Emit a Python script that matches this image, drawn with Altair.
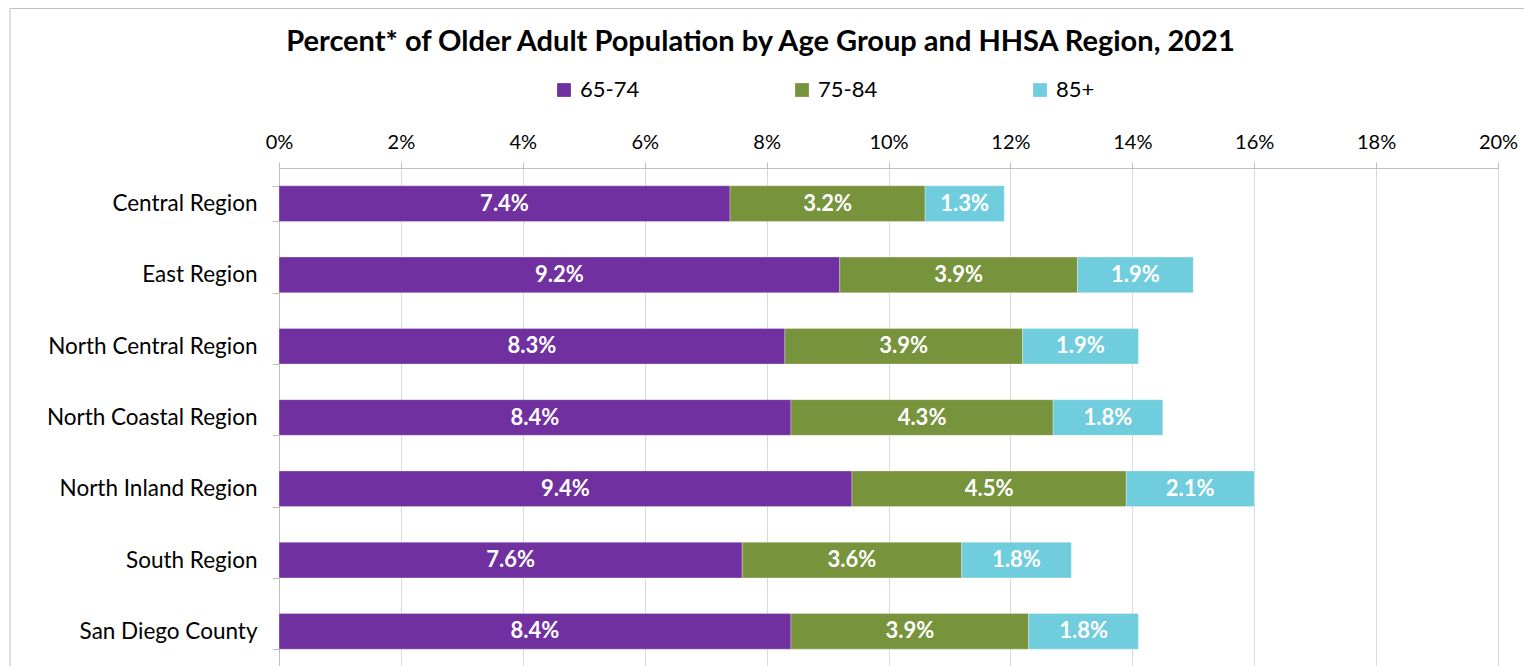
import altair as alt
import pandas as pd

regions = ["Central Region", "East Region", "North Central Region",
           "North Coastal Region", "North Inland Region", "South Region",
           "San Diego County"]
age_groups = ["65-74", "75-84", "85+"]
pct_65_74 = [7.4, 9.2, 8.3, 8.4, 9.4, 7.6, 8.4]
pct_75_84 = [3.2, 3.9, 3.9, 4.3, 4.5, 3.6, 3.9]
pct_85_plus = [1.3, 1.9, 1.9, 1.8, 2.1, 1.8, 1.8]
colors = ["#7030A0", "#77933C", "#70CDDD"]
x_ticks = [0, 2, 4, 6, 8, 10, 12, 14, 16, 18, 20]
title_text = "Percent* of Older Adult Population by Age Group and HHSA Region, 2021"

rows = []
for i, r in enumerate(regions):
    start = 0.0
    for k, (g, vals) in enumerate(zip(age_groups, [pct_65_74, pct_75_84, pct_85_plus])):
        v = vals[i]
        rows.append(dict(region=r, group=g, order=k, value=v, start=start,
                         end=start + v, mid=start + v / 2, label=f"{v:.1f}%"))
        start += v
df = pd.DataFrame(rows)

FONT = "Lato"

y_enc = alt.Y("region:N", sort=regions,
              scale=alt.Scale(paddingInner=0.5, paddingOuter=0.25),
              axis=alt.Axis(title=None, orient="left", tickBand="extent",
                            tickSize=7, tickColor="#BFBFBF", domainColor="#BFBFBF",
                            labelPadding=15, labelFontSize=22.5, labelFont=FONT,
                            labelLimit=400, labelColor="#000000", grid=False))

x_scale = alt.Scale(domain=[0, 20], nice=False)

bars = alt.Chart(df).mark_bar(stroke="#FFFFFF", strokeWidth=0.6, strokeOpacity=0.5).encode(
    x=alt.X("start:Q", scale=x_scale,
            axis=alt.Axis(title=None, orient="top", values=x_ticks,
                          labelExpr="datum.value + '%'", grid=True,
                          gridColor="#D9D9D9", domainColor="#BFBFBF",
                          tickColor="#BFBFBF", tickSize=6, labelPadding=10,
                          labelFlush=False,
                          labelFontSize=20, labelFont=FONT, labelColor="#000000")),
    x2="end:Q",
    y=y_enc,
    color=alt.Color("group:N", sort=age_groups,
                    scale=alt.Scale(domain=age_groups, range=colors),
                    legend=alt.Legend(title=None, orient="none", legendX=274,
                                      legendY=-89, direction="horizontal",
                                      symbolType="square", symbolSize=190,
                                      symbolStrokeWidth=0, labelFontSize=22,
                                      labelFont=FONT, labelColor="#000000",
                                      columnPadding=151, gridAlign="all",
                                      padding=0, labelOffset=5)),
    order=alt.Order("order:Q"),
)

labels = alt.Chart(df).mark_text(color="#FFFFFF", fontWeight="bold", fontSize=22,
                                 font=FONT, align="center", baseline="middle").encode(
    x=alt.X("mid:Q", scale=x_scale),
    y=alt.Y("region:N", sort=regions),
    text="label:N",
)

border = alt.Chart(pd.DataFrame({"k": [0]})).mark_rect(
    fill="#FFFFFF", fillOpacity=0, stroke="#BFBFBF", strokeWidth=1).encode(
    x=alt.value(-269), x2=alt.value(1400), y=alt.value(-159.5), y2=alt.value(800))

chart = alt.layer(border, bars, labels).properties(
    width=1219, height=499,
    title=alt.TitleParams(title_text, fontSize=29, font=FONT, fontWeight="bold",
                          color="#000000", anchor="middle", dx=-128, offset=-49),
    padding={"left": 271, "top": 160, "right": 26, "bottom": 0},
    autosize=alt.AutoSizeParams(type="none"),
).configure_view(stroke=None).configure(background="#FFFFFF")

chart.save("out.html", embed_options={"renderer": "svg", "actions": False})
